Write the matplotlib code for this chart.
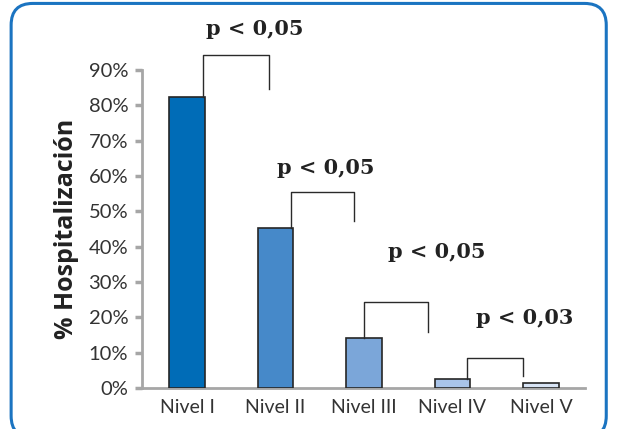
import matplotlib
matplotlib.use("Agg")
import matplotlib.pyplot as plt
from matplotlib.patches import FancyBboxPatch

# data
niveles = ["Nivel I", "Nivel II", "Nivel III", "Nivel IV", "Nivel V"]
hosp = [82.4, 45.3, 14.2, 2.5, 1.5]
colores = ["#006cb7", "#4689c9", "#7ba6d9", "#a9c4e9", "#d8e4f5"]
yticks = [0, 10, 20, 30, 40, 50, 60, 70, 80, 90]

# brackets: x left, x right, y left start, y top, y right end
brackets = [
    (0.18, 0.93, 82.4, 94.3, 84.7),
    (1.18, 1.89, 45.3, 55.5, 47.3),
    (2.0, 2.72, 14.2, 24.4, 15.9),
    (3.17, 3.80, 2.5, 8.5, 3.4),
]
p_text = ["p < 0,05", "p < 0,05", "p < 0,05", "p < 0,03"]
p_pos = [(0.77, 101.5), (1.57, 62.3), (2.82, 38.5), (3.82, 19.8)]

fig = plt.figure(figsize=(6.18, 4.29), dpi=100, facecolor="white")

# rounded blue frame (bottom runs off the picture)
frame = FancyBboxPatch((0.018, -0.02), 0.963, 1.012, boxstyle="round,pad=0,rounding_size=0.035",
                       transform=fig.transFigure, facecolor="none", edgecolor="#1b74c1",
                       linewidth=2.2, zorder=5, mutation_aspect=618/429)
fig.patches.append(frame)

ax = fig.add_axes([0.2298, 0.0956, 0.717, 0.741])
ax.patch.set_alpha(0)

x = list(range(len(niveles)))
ax.bar(x, hosp, width=0.4, color=colores, edgecolor="#262626", linewidth=1.2, zorder=3)

for (xl, xr, y0, yt, y1) in brackets:
    ax.plot([xl, xl, xr, xr], [y0, yt, yt, y1], color="#2a2a2a", linewidth=1.0,
            clip_on=False, zorder=4)
for t, (px, py) in zip(p_text, p_pos):
    ax.text(px, py, t, ha="center", va="center", fontsize=15, fontweight="bold",
            family="DejaVu Serif", color="#222222", clip_on=False)

ax.set_xlim(-0.51, 4.5)
ax.set_ylim(0, 90)
ax.set_yticks(yticks)
ax.set_yticklabels([f"{v}%" for v in yticks], family="Lato", fontsize=14.5, color="#333333")
ax.set_xticks(x)
ax.set_xticklabels(niveles, family="Lato", fontsize=14, color="#333333")

for s in ["top", "right"]:
    ax.spines[s].set_visible(False)
for s in ["left", "bottom"]:
    ax.spines[s].set_color("#a6a6a6")
    ax.spines[s].set_linewidth(2)
ax.tick_params(axis="y", length=5, width=2.5, color="#a6a6a6", pad=5)
ax.tick_params(axis="x", length=0, pad=8)

ax.set_ylabel("% Hospitalización", family="Open Sans", fontweight="bold", fontsize=18,
              color="#222222", labelpad=7)

fig.savefig("out.png", dpi=100)
